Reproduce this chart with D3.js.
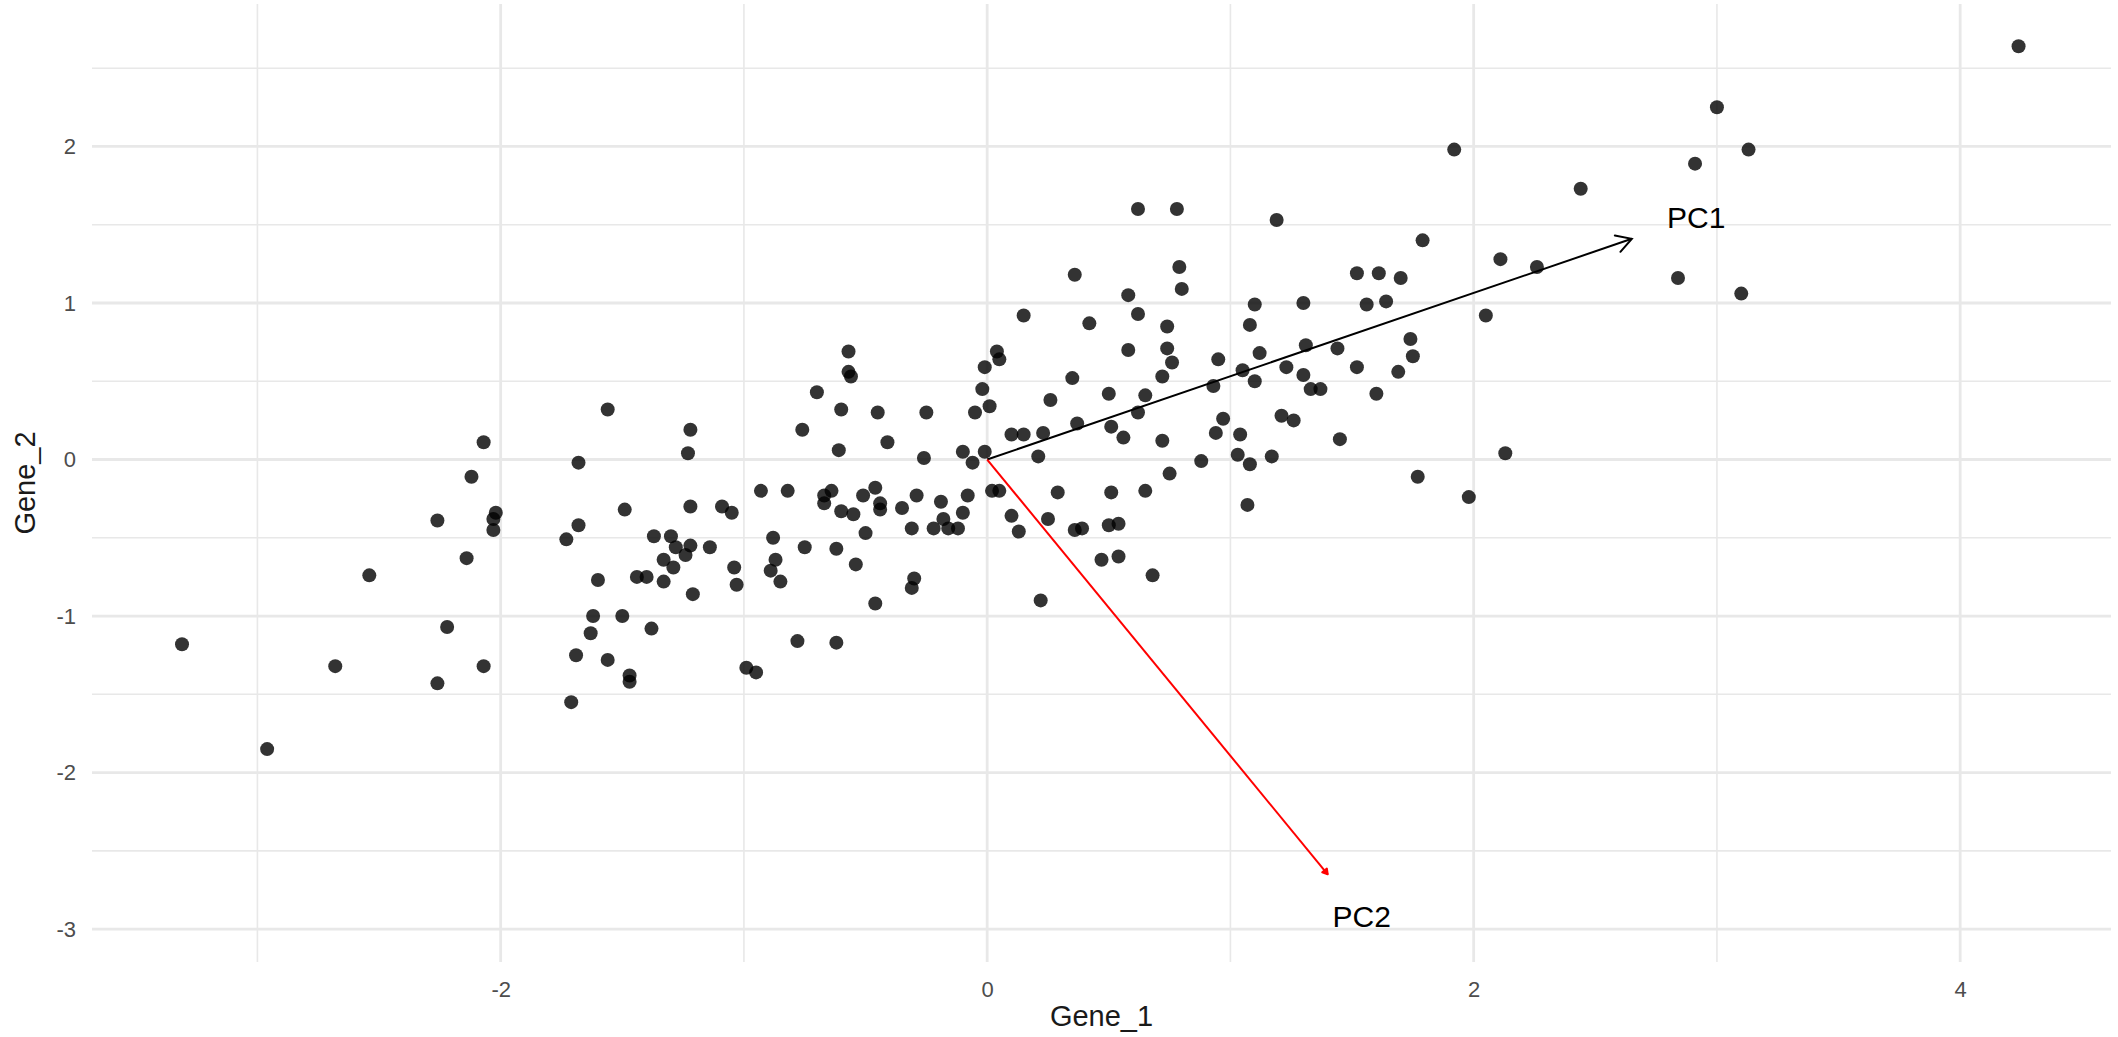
<!DOCTYPE html>
<html>
<head>
<meta charset="utf-8">
<title>Gene_1 vs Gene_2 with principal component loadings</title>
<script src="https://cdn.jsdelivr.net/npm/d3@7"></script>
<style>
  html, body { margin: 0; padding: 0; background: #ffffff; }
  svg { display: block; }
  text { font-family: "Liberation Sans", Arial, Helvetica, sans-serif; }
</style>
</head>
<body>
<script>
// Samples: expression of Gene_1 (x) and Gene_2 (y)
const gene1 = [
  -2.07, -1.68, -2.12, -2.26, -2.02, -2.03, -2.03, -1.68, -1.73, -2.14,
  -2.54, -1.60, -1.62, -1.63, -2.22, -3.31, -2.68, -2.07, -1.69, -1.56,
  -2.26, -1.71, -2.96, -1.56, -0.57, -0.57, -0.56, -0.70, -0.60, -0.45,
  -0.25, -1.22, -0.76, -0.41, -1.23, -0.61, -0.26, -0.10, -0.06, -0.01,
  -0.93, -0.82, -1.49, -1.22, -1.09, -1.05, -0.64, -0.67, -0.67, -0.60,
  -0.55, -0.51, -0.46, -0.44, -0.44, -0.35, -0.29, -0.19, -0.08, -0.18,
  -0.16, -0.12, -0.22, -0.10, -0.31, -1.37, -1.30, -1.28, -1.22, -1.24,
  -1.14, -0.88, -0.75, -0.62, -0.50, -0.54, -1.33, -1.29, -1.44, -1.40,
  -1.33, -1.21, -1.04, -1.03, -0.87, -0.89, -0.85, -0.30, -0.31, -0.46,
  -1.50, -1.38, -1.47, -1.47, -0.99, -0.95, -0.78, -0.62,  0.04,  0.05,
  -0.01, -0.02,  0.01, -0.05,  0.62,  0.78,  1.19,  0.36,  0.79,  0.80,
   0.58,  1.10,  1.30,  0.15,  0.42,  0.62,  0.74,  1.08,  0.58,  0.74,
   0.76,  1.31,  1.44,  0.95,  1.12,  1.23,  1.30,  1.33,  1.37,  1.05,
   1.10,  0.93,  0.72,  0.65,  0.50,  0.35,  0.26,  0.62,  0.37,  0.51,
   0.56,  0.72,  0.97,  0.94,  1.04,  1.21,  1.26,  1.45,  0.10,  0.15,
   0.23,  0.21,  0.88,  1.03,  1.08,  1.17,  0.75,  0.02,  0.05,  0.29,
   0.51,  0.65,  1.07,  0.10,  0.13,  0.25,  0.36,  0.39,  0.50,  0.54,
   0.47,  0.54,  0.68,  0.22,  3.00,  1.92,  2.91,  2.44,  1.79,  2.11,
   2.26,  2.84,  3.10,  1.52,  1.61,  1.70,  1.56,  1.64,  2.05,  1.74,
   1.75,  1.52,  1.69,  1.60,  2.13,  1.77,  1.98,  4.24,  3.13
];
const gene2 = [
   0.11, -0.02, -0.11, -0.39, -0.34, -0.38, -0.45, -0.42, -0.51, -0.63,
  -0.74, -0.77, -1.00, -1.11, -1.07, -1.18, -1.32, -1.32, -1.25, -1.28,
  -1.43, -1.55, -1.85,  0.32,  0.69,  0.56,  0.53,  0.43,  0.32,  0.30,
   0.30,  0.19,  0.19,  0.11,  0.04,  0.06,  0.01,  0.05, -0.02,  0.05,
  -0.20, -0.20, -0.32, -0.30, -0.30, -0.34, -0.20, -0.23, -0.28, -0.33,
  -0.35, -0.23, -0.18, -0.28, -0.32, -0.31, -0.23, -0.27, -0.23, -0.38,
  -0.44, -0.44, -0.44, -0.34, -0.44, -0.49, -0.49, -0.56, -0.55, -0.61,
  -0.56, -0.50, -0.56, -0.57, -0.47, -0.67, -0.64, -0.69, -0.75, -0.75,
  -0.78, -0.86, -0.69, -0.80, -0.64, -0.71, -0.78, -0.76, -0.82, -0.92,
  -1.00, -1.08, -1.38, -1.42, -1.33, -1.36, -1.16, -1.17,  0.69,  0.64,
   0.59,  0.45,  0.34,  0.30,  1.60,  1.60,  1.53,  1.18,  1.23,  1.09,
   1.05,  0.99,  1.00,  0.92,  0.87,  0.93,  0.85,  0.86,  0.70,  0.71,
   0.62,  0.73,  0.71,  0.64,  0.68,  0.59,  0.54,  0.45,  0.45,  0.57,
   0.50,  0.47,  0.53,  0.41,  0.42,  0.52,  0.38,  0.30,  0.23,  0.21,
   0.14,  0.12,  0.26,  0.17,  0.16,  0.28,  0.25,  0.13,  0.16,  0.16,
   0.17,  0.02, -0.01,  0.03, -0.03,  0.02, -0.09, -0.20, -0.20, -0.21,
  -0.21, -0.20, -0.29, -0.36, -0.46, -0.38, -0.45, -0.44, -0.42, -0.41,
  -0.64, -0.62, -0.74, -0.90,  2.25,  1.98,  1.89,  1.73,  1.40,  1.28,
   1.23,  1.16,  1.06,  1.19,  1.19,  1.16,  0.99,  1.01,  0.92,  0.77,
   0.66,  0.59,  0.56,  0.42,  0.04, -0.11, -0.24,  2.64,  1.98
];

// Principal component directions (arrow tips), labels sit at 1.1x the tip
const pcNames = ["PC1", "PC2"];
const pcX = [2.65, 1.40];
const pcY = [1.41, -2.65];
const pcColors = ["#000000", "#ff0000"];
const labelScale = 1.1;

// Axis breaks
const xDomain = [-3.68, 4.62];
const yDomain = [-3.21, 2.91];
const xTicks = [-2, 0, 2, 4];
const xMinor = [-3, -1, 1, 3];
const yTicks = [-3, -2, -1, 0, 1, 2];
const yMinor = [-2.5, -1.5, -0.5, 0.5, 1.5, 2.5];

const W = 2118, H = 1037;
const panel = { left: 92, right: 2111, top: 4, bottom: 962 };

const svg = d3.select("body").append("svg")
  .attr("width", W).attr("height", H)
  .attr("viewBox", `0 0 ${W} ${H}`);

const x = d3.scaleLinear().domain(xDomain).range([panel.left, panel.right]);
const y = d3.scaleLinear().domain(yDomain).range([panel.bottom, panel.top]);

const gridColor = "#e8e8e8";

// Minor grid
const grid = svg.append("g").attr("class", "grid");
grid.selectAll("line.vminor").data(xMinor).join("line")
  .attr("class", "vminor")
  .attr("x1", d => x(d)).attr("x2", d => x(d))
  .attr("y1", panel.top).attr("y2", panel.bottom)
  .attr("stroke", gridColor).attr("stroke-width", 1.6);
grid.selectAll("line.hminor").data(yMinor).join("line")
  .attr("class", "hminor")
  .attr("x1", panel.left).attr("x2", panel.right)
  .attr("y1", d => y(d)).attr("y2", d => y(d))
  .attr("stroke", gridColor).attr("stroke-width", 1.6);

// Major grid
grid.selectAll("line.vmajor").data(xTicks).join("line")
  .attr("class", "vmajor")
  .attr("x1", d => x(d)).attr("x2", d => x(d))
  .attr("y1", panel.top).attr("y2", panel.bottom)
  .attr("stroke", gridColor).attr("stroke-width", 2.8);
grid.selectAll("line.hmajor").data(yTicks).join("line")
  .attr("class", "hmajor")
  .attr("x1", panel.left).attr("x2", panel.right)
  .attr("y1", d => y(d)).attr("y2", d => y(d))
  .attr("stroke", gridColor).attr("stroke-width", 2.8);

// Axes (labels only, no lines or ticks)
const tickFont = 22;
const xAxis = svg.append("g")
  .attr("transform", `translate(0,${panel.bottom})`)
  .call(d3.axisBottom(x).tickValues(xTicks).tickSize(0).tickPadding(19)
    .tickFormat(d3.format("d")));
const yAxis = svg.append("g")
  .attr("transform", `translate(${panel.left},0)`)
  .call(d3.axisLeft(y).tickValues(yTicks).tickSize(0).tickPadding(16)
    .tickFormat(d3.format("d")));
[xAxis, yAxis].forEach(g => {
  g.select(".domain").remove();
  g.selectAll("text")
    .attr("fill", "#4d4d4d")
    .style("font-size", tickFont + "px")
    .style("font-family", '"Liberation Sans", Arial, Helvetica, sans-serif');
});
// use a plain hyphen for negatives, as in the printed labels
xAxis.selectAll("text").text(d => String(d));
yAxis.selectAll("text").text(d => String(d));

// Axis titles
const titleFont = 29;
svg.append("text")
  .attr("x", (panel.left + panel.right) / 2)
  .attr("y", 1026)
  .attr("text-anchor", "middle")
  .attr("fill", "#1a1a1a")
  .style("font-size", titleFont + "px")
  .text("Gene_1");
svg.append("text")
  .attr("transform", `translate(35,${(panel.top + panel.bottom) / 2}) rotate(-90)`)
  .attr("text-anchor", "middle")
  .attr("fill", "#1a1a1a")
  .style("font-size", titleFont + "px")
  .text("Gene_2");

// Sample points
svg.append("g").attr("class", "points")
  .selectAll("circle")
  .data(d3.range(gene1.length))
  .join("circle")
  .attr("cx", i => x(gene1[i]))
  .attr("cy", i => y(gene2[i]))
  .attr("r", 7)
  .attr("fill", "#000000")
  .attr("fill-opacity", 0.8);

// Arrowheads
const defs = svg.append("defs");
defs.append("marker")
  .attr("id", "head-open")
  .attr("markerUnits", "userSpaceOnUse")
  .attr("viewBox", "-20 -12 24 24")
  .attr("refX", 0).attr("refY", 0)
  .attr("markerWidth", 24).attr("markerHeight", 24)
  .attr("orient", "auto")
  .append("path")
  .attr("d", "M-15,-8.6 L0,0 L-15,8.6")
  .attr("fill", "none")
  .attr("stroke", pcColors[0])
  .attr("stroke-width", 2)
  .attr("stroke-linecap", "round")
  .attr("stroke-linejoin", "miter");
defs.append("marker")
  .attr("id", "head-small")
  .attr("markerUnits", "userSpaceOnUse")
  .attr("viewBox", "-10 -6 12 12")
  .attr("refX", 0).attr("refY", 0)
  .attr("markerWidth", 12).attr("markerHeight", 12)
  .attr("orient", "auto")
  .append("path")
  .attr("d", "M-5,-3 L0,0 L-5,3 Z")
  .attr("fill", pcColors[1])
  .attr("stroke", pcColors[1])
  .attr("stroke-width", 2)
  .attr("stroke-linejoin", "round");

const markerIds = ["head-open", "head-small"];

// Loading arrows from the origin
svg.append("g").attr("class", "loadings")
  .selectAll("line")
  .data(d3.range(pcNames.length))
  .join("line")
  .attr("x1", x(0)).attr("y1", y(0))
  .attr("x2", i => x(pcX[i])).attr("y2", i => y(pcY[i]))
  .attr("stroke", i => pcColors[i])
  .attr("stroke-width", 2)
  .attr("marker-end", i => `url(#${markerIds[i]})`);

// Component labels
svg.append("g").attr("class", "pc-labels")
  .selectAll("text")
  .data(d3.range(pcNames.length))
  .join("text")
  .attr("x", i => x(pcX[i] * labelScale))
  .attr("y", i => y(pcY[i] * labelScale))
  .attr("dy", "0.36em")
  .attr("text-anchor", "middle")
  .attr("fill", "#000000")
  .style("font-size", "30px")
  .text(i => pcNames[i]);
</script>
</body>
</html>
